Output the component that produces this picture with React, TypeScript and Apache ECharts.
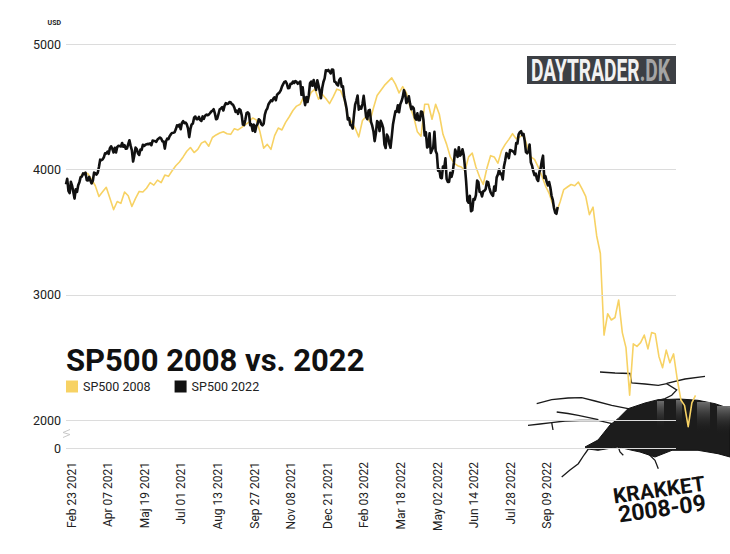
import React, { useEffect, useRef } from "react";
import * as echarts from "echarts";

// x positions are trading-day indexes (0 = Feb 23 2021)
const tickPositions = [0, 30, 60, 90, 120, 150, 180, 210, 240, 270, 300, 330, 360, 390];
const tickLabels = [
  "Feb 23 2021", "Apr 07 2021", "Maj 19 2021", "Jul 01 2021", "Aug 13 2021",
  "Sep 27 2021", "Nov 08 2021", "Dec 21 2021", "Feb 03 2022", "Mar 18 2022",
  "May 02 2022", "Jun 14 2022", "Jul 28 2022", "Sep 09 2022",
];
const yTickValues = [1780, 2000, 3000, 4000, 5000];
const yTickLabels = ["0", "2000", "3000", "4000", "5000"];
const gridEndX = 500;

// SP500 2022 (black), one value per trading day from Feb 23 2021
const sp2022 = [
  3881, 3925, 3829, 3811, 3902, 3870, 3820, 3768, 3842, 3821, 3875, 3899, 3939, 3943, 3969, 3963, 3974, 3915, 3913, 3941,
  3911, 3889, 3910, 3975, 3971, 3959, 3973, 4020, 4078, 4074, 4080, 4097, 4129, 4128, 4142, 4125, 4170, 4185, 4163, 4135,
  4173, 4135, 4180, 4188, 4187, 4183, 4211, 4181, 4193, 4165, 4168, 4202, 4233, 4188, 4152, 4063, 4112, 4174, 4163, 4128,
  4116, 4159, 4156, 4197, 4188, 4196, 4201, 4204, 4202, 4208, 4193, 4230, 4227, 4227, 4220, 4239, 4247, 4255, 4247, 4224,
  4222, 4166, 4225, 4246, 4242, 4266, 4281, 4291, 4292, 4297, 4320, 4352, 4344, 4358, 4321, 4370, 4385, 4369, 4374, 4360,
  4327, 4258, 4323, 4359, 4367, 4412, 4422, 4401, 4401, 4419, 4395, 4387, 4423, 4403, 4429, 4437, 4432, 4437, 4448, 4461,
  4468, 4480, 4448, 4400, 4406, 4442, 4480, 4486, 4496, 4470, 4509, 4529, 4523, 4524, 4537, 4535, 4520, 4514, 4493, 4459,
  4469, 4443, 4481, 4474, 4433, 4358, 4354, 4396, 4449, 4455, 4443, 4353, 4359, 4308, 4357, 4300, 4346, 4364, 4400, 4391,
  4361, 4351, 4364, 4438, 4471, 4486, 4520, 4536, 4550, 4545, 4566, 4575, 4552, 4596, 4605, 4614, 4631, 4661, 4680, 4698,
  4702, 4685, 4647, 4649, 4683, 4683, 4701, 4689, 4705, 4698, 4683, 4691, 4701, 4595, 4655, 4567, 4513, 4577, 4538, 4592,
  4687, 4701, 4667, 4712, 4669, 4634, 4710, 4669, 4621, 4568, 4649, 4697, 4726, 4791, 4786, 4793, 4779, 4766, 4797, 4794,
  4701, 4696, 4677, 4670, 4713, 4726, 4659, 4663, 4577, 4533, 4483, 4398, 4410, 4356, 4350, 4327, 4432, 4516, 4547, 4589,
  4477, 4501, 4484, 4522, 4587, 4504, 4419, 4402, 4471, 4475, 4380, 4349, 4305, 4226, 4289, 4385, 4374, 4306, 4387, 4363,
  4329, 4201, 4171, 4278, 4260, 4204, 4173, 4262, 4358, 4412, 4463, 4461, 4512, 4456, 4520, 4543, 4576, 4632, 4602, 4530,
  4546, 4583, 4525, 4481, 4500, 4488, 4413, 4397, 4447, 4393, 4392, 4462, 4459, 4394, 4272, 4296, 4175, 4184, 4288, 4132,
  4155, 4175, 4300, 4147, 4123, 3991, 4001, 3935, 3930, 4024, 4008, 4089, 3924, 3901, 3901, 3974, 3941, 3979, 4058, 4158,
  4132, 4101, 4177, 4109, 4121, 4161, 4116, 4018, 3901, 3750, 3735, 3790, 3667, 3675, 3765, 3760, 3796, 3912, 3900, 3822,
  3819, 3785, 3825, 3831, 3845, 3903, 3899, 3854, 3819, 3802, 3790, 3863, 3831, 3937, 3960, 3999, 3962, 3967, 3921, 4024,
  4072, 4130, 4119, 4091, 4155, 4152, 4145, 4140, 4122, 4210, 4207, 4280, 4297, 4305, 4274, 4284, 4228, 4138, 4129, 4141,
  4199, 4058, 4031, 3986, 3955, 3967, 3924, 3908, 3980, 4006, 4067, 4110, 3933, 3946, 3901, 3873, 3900, 3856, 3790, 3758,
  3693, 3655, 3647, 3700,
];

// SP500 2008 (yellow), one value every 3 trading-day slots, starting at slot 12
const sp2008Start = 12;
const sp2008Step = 3;
const sp2008 = [
  3950, 3975, 3965, 3920, 3870, 3785, 3822, 3858, 3770, 3680, 3745, 3730, 3820, 3790, 3705, 3770, 3825, 3820, 3850, 3895,
  3875, 3915, 3895, 3955, 3945, 3990, 4030, 4060, 4100, 4145, 4175, 4135, 4160, 4210, 4225, 4185, 4255, 4275, 4290, 4300,
  4285, 4280, 4325, 4315, 4335, 4358, 4378, 4410, 4395, 4300, 4170, 4200, 4160, 4270, 4330, 4315, 4375, 4420, 4470, 4505,
  4520, 4580, 4545, 4615, 4640, 4560, 4600, 4565, 4525, 4578, 4640, 4630, 4560, 4420, 4380, 4330, 4260, 4390, 4420, 4380,
  4490, 4590, 4630, 4670, 4700, 4730, 4680, 4610, 4660, 4610, 4500, 4420, 4300, 4265, 4520, 4520, 4400, 4520, 4440, 4280,
  4200, 4100, 4050, 4030, 4020, 3990, 4100, 4130, 4020, 3940, 3880, 4010, 4110, 4100, 4050, 4150, 4200, 4240, 4285, 4245,
  4260, 4280, 4185, 4100, 4080, 4020, 3950, 3870, 3810, 3720, 3660, 3740, 3840, 3860, 3880, 3870, 3900, 3845, 3785, 3640,
  3700, 3470, 3330, 2680, 2850, 2800, 2820, 2960, 2700, 2580, 2200, 2610, 2590, 2620, 2680, 2570, 2700, 2690, 2510, 2420,
  2560, 2460, 2530, 2330, 2163, 2120, 1950, 2140, 2200,
];

const YELLOW = "#f7d264";
const BLACK = "#111111";
const FONT = "Roboto, 'Noto Sans', sans-serif";

const crackLines: number[][][] = [
  [[528, 425.3], [540, 424], [551.7, 422.7], [565, 421], [580, 420.5], [598, 420.3], [612, 423.7]],
  [[551.7, 422.7], [553, 430]],
  [[536.7, 403.7], [551.7, 399.7], [568, 398], [581.7, 397.7], [595, 401], [611.7, 405.3], [628, 408.7]],
  [[556.7, 412], [568, 413.5], [578.3, 415.3], [598.3, 419.7]],
  [[600, 372], [615, 373], [630, 373.5], [631.7, 383], [645, 384], [658.3, 385.3], [666.7, 383.7], [676.7, 390], [671.7, 395.3], [665, 398.7], [658, 400.5]],
  [[666.7, 383.4], [685, 379], [705, 376.3]],
  [[561.7, 477], [570, 470], [578.3, 463.7], [584, 455], [588.3, 449]],
  [[618.3, 447], [620, 452], [623.3, 455.3]],
  [[648.3, 453.7], [655, 460.3], [658.3, 468.7]],
];

const holePoints = [
  [585, 447], [598, 440], [610, 425], [618, 418.7], [628, 408.7], [645, 403], [658, 399.7], [680, 399],
  [698, 400.3], [715, 403.7], [730, 408.7], [730, 457], [718, 453.7], [698, 450.3], [672, 450.3],
  [655, 457], [640, 452], [632, 450.3], [618, 447], [598, 450.3], [588, 449],
];

const wallRects = [
  [657, 401, 7, 28], [676, 400, 6, 26], [697, 402, 13, 30], [717, 406, 13, 28],
];

export default function App() {
  const ref = useRef<HTMLDivElement>(null);

  useEffect(() => {
    const chart = echarts.init(ref.current!, null, { renderer: "svg" });
    const s2022 = sp2022.map((v, i) => [i, v]);
    const s2008 = sp2008.map((v, i) => [sp2008Start + i * sp2008Step, v]);
    const xMax = s2008[s2008.length - 1][0] + 1;

    const wallGrad = {
      type: "linear", x: 0, y: 0, x2: 0, y2: 1,
      colorStops: [{ offset: 0, color: "#6e6e6e" }, { offset: 1, color: "rgba(28,28,28,0)" }],
    };

    const graphics: any[] = [
      {
        type: "polygon", z: 1, silent: true,
        shape: { points: holePoints },
        style: { fill: "#1c1c1c", stroke: "#111", lineWidth: 1 },
      },
      ...wallRects.map((r) => ({
        type: "rect", z: 1, silent: true,
        shape: { x: r[0], y: r[1], width: r[2], height: r[3] },
        style: { fill: wallGrad },
      })),
      ...crackLines.map((pts) => ({
        type: "polyline", z: 1, silent: true,
        shape: { points: pts },
        style: { stroke: "#1a1a1a", lineWidth: 1.3, fill: null },
      })),
      {
        type: "polyline", z: 1, silent: true,
        shape: { points: [[63, 437.5], [70, 434.5], [63, 432.5], [70, 429.5]] },
        style: { stroke: "#c8c8c8", lineWidth: 1, fill: null },
      },
      {
        type: "rect", z: 1, silent: true,
        shape: { x: 527, y: 56, width: 149, height: 28 },
        style: { fill: "#3c3f44" },
      },
      {
        type: "text", z: 2, silent: true, x: 531, y: 70.5, scaleX: 0.6,
        style: {
          text: "{a|DAYTRADER}{b|.DK}",
          align: "left", verticalAlign: "middle",
          textAlign: "left", textVerticalAlign: "middle",
          rich: {
            a: { fill: "#f2f2f2", fontSize: 32, fontWeight: "bold", fontFamily: FONT },
            b: { fill: "#a5a5a5", fontSize: 32, fontWeight: "bold", fontFamily: FONT },
          },
        },
      },
      {
        type: "text", z: 5, silent: true, x: 61, y: 23.3,
        style: {
          text: "USD", fontSize: 7, fontWeight: "bold", fontFamily: FONT, fill: "#222",
          align: "right", verticalAlign: "middle", textAlign: "right", textVerticalAlign: "middle",
        },
      },
      {
        type: "text", z: 5, silent: true, x: 66, y: 360,
        style: {
          text: "SP500 2008 vs. 2022", fontSize: 31, fontWeight: "bold", fontFamily: FONT, fill: "#111",
          align: "left", verticalAlign: "middle", textAlign: "left", textVerticalAlign: "middle",
        },
      },
      {
        type: "text", z: 5, silent: true, x: 659, y: 490, rotation: 0.14,
        style: {
          text: "KRAKKET", fontSize: 21, fontWeight: "bold", fontFamily: FONT, fill: "#111",
          align: "center", verticalAlign: "middle", textAlign: "center", textVerticalAlign: "middle",
        },
      },
      {
        type: "text", z: 5, silent: true, x: 662, y: 509, rotation: 0.14,
        style: {
          text: "2008-09", fontSize: 23, fontWeight: "bold", fontFamily: FONT, fill: "#111",
          align: "center", verticalAlign: "middle", textAlign: "center", textVerticalAlign: "middle",
        },
      },
    ];

    // grid width chosen so that 1 slot = 1.22px
    const gridRight = 730 - (66 + xMax * 1.22);

    chart.setOption({
      animation: false,
      backgroundColor: "#ffffff",
      textStyle: { fontFamily: FONT },
      grid: { left: 66, right: gridRight, top: 44, bottom: 106, containLabel: false, outerBoundsMode: "none" },
      legend: {
        left: 66, top: 380, padding: 0, itemWidth: 12, itemHeight: 12, itemGap: 24, icon: "rect",
        textStyle: { fontSize: 12.5, color: "#222", fontFamily: FONT },
        data: ["SP500 2008", "SP500 2022"],
      },
      xAxis: {
        type: "value", min: 0, max: xMax,
        axisLine: { show: false },
        axisTick: { show: false, customValues: tickPositions },
        splitLine: { show: false },
        axisLabel: {
          customValues: tickPositions, rotate: 90, margin: 14,
          verticalAlign: "top", lineHeight: 11,
          fontSize: 12, color: "#222", fontFamily: FONT,
          formatter: (v: number) => {
            const i = tickPositions.indexOf(Math.round(v));
            return i >= 0 ? tickLabels[i] : "";
          },
        },
      },
      yAxis: {
        type: "value", min: 1780, max: 5000,
        axisLine: { show: false },
        axisTick: { show: false, customValues: yTickValues },
        splitLine: { show: false },
        axisLabel: {
          customValues: yTickValues, margin: 5, fontSize: 12.5, color: "#222", fontFamily: FONT,
          formatter: (v: number) => {
            const i = yTickValues.indexOf(Math.round(v));
            return i >= 0 ? yTickLabels[i] : "";
          },
        },
      },
      series: [
        {
          name: "gridlines", type: "line", data: [], z: 0, silent: true,
          markLine: {
            silent: true, symbol: "none", label: { show: false },
            lineStyle: { color: "#dcdcdc", width: 1, type: "solid" },
            emphasis: { disabled: true },
            data: yTickValues.map((v) => [{ coord: [0, v] }, { coord: [gridEndX, v] }]),
          },
        },
        {
          name: "SP500 2008", type: "line", data: s2008, showSymbol: false, symbol: "none",
          color: YELLOW, z: 3,
          lineStyle: { width: 1.6, color: YELLOW, join: "round" },
        },
        {
          name: "SP500 2022", type: "line", data: s2022, showSymbol: false, symbol: "none",
          color: BLACK, z: 4,
          lineStyle: { width: 2.6, color: BLACK, join: "round" },
        },
      ],
      graphic: { elements: graphics },
    });

    return () => chart.dispose();
  }, []);

  return (
    <div
      ref={ref}
      style={{ position: "fixed", left: 0, top: 0, width: 730, height: 554, background: "#fff" }}
    />
  );
}
